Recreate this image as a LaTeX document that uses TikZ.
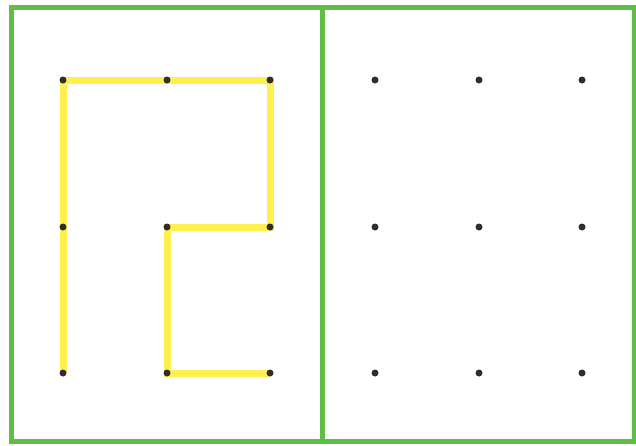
\documentclass[tikz,border=0pt]{standalone}
\usepackage{tikz}
\usepackage{xcolor}
\usetikzlibrary{positioning}
\definecolor{mFrame}{HTML}{5EBE45}
\definecolor{mStick}{HTML}{FFEF4F}
\definecolor{mDot}{HTML}{2E2E2E}

\begin{document}
\begin{tikzpicture}[
  x=0.03cm, y=-0.03cm,
  frame/.style={draw=mFrame, line width=5*0.03cm},
  stick/.style={draw=mStick, line width=7*0.03cm, line cap=butt, line join=miter},
  dot/.style={circle, fill=mDot, inner sep=0pt, minimum width=6*0.03cm,
              minimum height=7*0.03cm},
]
  \useasboundingbox[fill=white] (0,0) rectangle (636,446);
  % frame and divider
  \draw[frame] (11,7) rectangle (634,441);
  \draw[frame] (322,7) -- (322,441);
  % left grid
  \foreach \c/\x in {1/63, 2/167, 3/270}
    \foreach \r/\y in {1/80, 2/227, 3/373}
      \coordinate (l\c\r) at (\x,\y);
  \draw[stick] (l13) -- (l11) -- (l31) -- (l32) -- (l22) -- (l23) -- (l33);
  \foreach \c in {1,2,3}
    \foreach \r in {1,2,3}
      \node[dot] (dl\c\r) at (l\c\r) {};
  % right grid
  \foreach \c/\x in {1/375, 2/479, 3/582}
    \foreach \r/\y in {1/80, 2/227, 3/373}
      \node[dot] (dr\c\r) at (\x,\y) {};
\end{tikzpicture}
\end{document}
